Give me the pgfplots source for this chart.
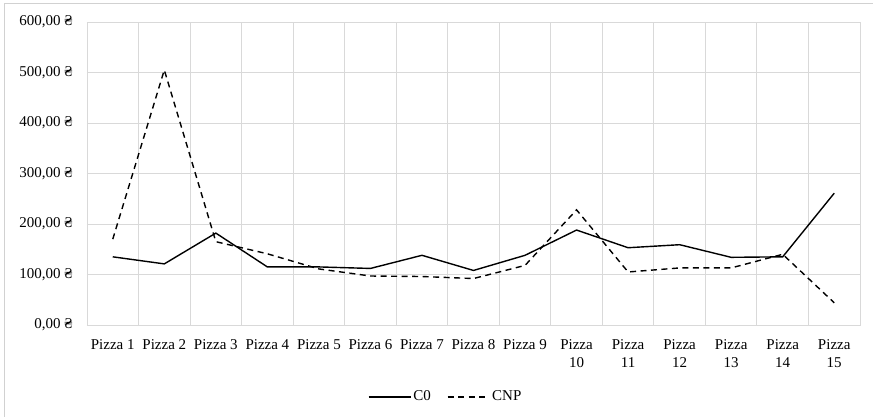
\documentclass[border=0pt]{standalone}
\usepackage{pgfplots}
\pgfplotsset{compat=1.18}
\usepackage{fontspec}
\setmainfont{Liberation Serif}
\begin{document}
\fontsize{15}{17}\selectfont
\begin{tikzpicture}
\path[use as bounding box] (0,0) rectangle (873pt,417pt);
\draw[color=black!18, line width=0.8pt] (4.5pt,0) -- (4.5pt,414pt) -- (873pt,414pt);
\begin{axis}[
  at={(87pt,92pt)}, anchor=south west,
  scale only axis, width=773pt, height=303pt,
  xmin=0.5, xmax=15.5, ymin=0, ymax=600,
  xtick={1,...,15},
  xticklabels={Pizza 1,Pizza 2,Pizza 3,Pizza 4,Pizza 5,Pizza 6,Pizza 7,Pizza 8,Pizza 9,Pizza\\10,Pizza\\11,Pizza\\12,Pizza\\13,Pizza\\14,Pizza\\15},
  xticklabel style={align=center, font=\fontsize{15}{18.5}\selectfont, anchor=north, yshift=-9pt},
  minor xtick={0.5,1.5,...,15.5},
  xminorgrids, ymajorgrids,
  ytick={0,100,...,600},
  yticklabels={{0,00 ₴},{100,00 ₴},{200,00 ₴},{300,00 ₴},{400,00 ₴},{500,00 ₴},{600,00 ₴}},
  yticklabel style={font=\fontsize{15}{17}\selectfont, xshift=-9pt},
  major tick length=0pt, minor tick length=0pt,
  grid style={draw=black!15, line width=0.9pt},
  minor grid style={draw=black!15, line width=0.9pt},
  axis line style={draw=black!15, line width=0.9pt},
  legend style={at={(0.464,-0.238)}, anchor=center, draw=none, fill=none,
    font=\fontsize{15}{17}\selectfont, legend columns=2,
    /tikz/every even column/.append style={column sep=14pt}},
  legend image code/.code={\draw[#1] (0pt,0pt) -- (42pt,0pt);},
  clip=false,
]
\addplot[black, line width=1.4pt] coordinates {
(1,135) (2,121) (3,182) (4,115) (5,115) (6,112) (7,138) (8,108) (9,138) (10,188) (11,153) (12,159) (13,134) (14,135) (15,261)};
\addlegendentry{C0}
\addplot[black, line width=1.4pt, dash pattern=on 6pt off 4.5pt] coordinates {
(1,170) (2,505) (3,165) (4,141) (5,111) (6,97) (7,96) (8,92) (9,118) (10,228) (11,105) (12,113) (13,113) (14,140) (15,44)};
\addlegendentry{CNP}
\end{axis}
\end{tikzpicture}
\end{document}
